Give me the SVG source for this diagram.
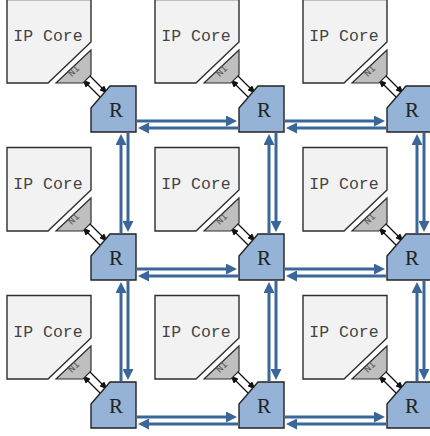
<svg xmlns="http://www.w3.org/2000/svg" width="430" height="436" viewBox="0 0 430 436">
<style>
.ip{fill:#f2f2f2;stroke:#2e2e2e;stroke-width:1.4}
.ni{fill:#bfbfbf;stroke:#2e2e2e;stroke-width:1.2}
.rt{fill:#94b3d7;stroke:#222;stroke-width:1.4}
.ipt{font-family:"Liberation Mono",monospace;font-size:16.5px;fill:#444;text-anchor:middle}
.nit{font-family:"Liberation Mono",monospace;font-size:10px;fill:#555;text-anchor:middle}
.rtt{font-family:"Liberation Serif",serif;font-size:21px;fill:#222;text-anchor:middle}
.link{fill:none;stroke:#3a6699;stroke-width:3;marker-end:url(#big)}
.nil{fill:none;stroke:#111;stroke-width:1.3;marker-end:url(#small)}
</style>
<defs>
<marker id="big" markerUnits="userSpaceOnUse" markerWidth="11" markerHeight="11" refX="1" refY="5.5" orient="auto" viewBox="0 0 11 11">
<path d="M0,0 L11,5.5 L0,11 z" fill="#3a6699"/>
</marker>
<marker id="small" markerUnits="userSpaceOnUse" markerWidth="8" markerHeight="7" refX="6" refY="3.5" orient="auto" viewBox="0 0 8 7">
<path d="M0,0 L8,3.5 L0,7 z" fill="#111"/>
</marker>
<g id="cell-ip"><polygon class="ip" points="7,-0.5 91,-0.5 91,42 48,83 7,83"/></g>
</defs>

<g id="connectors">
<path class="link" d="M137,121 H227"/><path class="link" d="M238,128 H148"/>
<path class="link" d="M285,121 H375"/><path class="link" d="M386,128 H296"/>
<path class="link" d="M137,269 H227"/><path class="link" d="M238,276 H148"/>
<path class="link" d="M285,269 H375"/><path class="link" d="M386,276 H296"/>
<path class="link" d="M137,417 H227"/><path class="link" d="M238,424 H148"/>
<path class="link" d="M285,417 H375"/><path class="link" d="M386,424 H296"/>
<path class="link" d="M121,233 V144"/><path class="link" d="M128,133 V222"/>
<path class="link" d="M269,233 V144"/><path class="link" d="M276,133 V222"/>
<path class="link" d="M417,233 V144"/><path class="link" d="M424,133 V222"/>
<path class="link" d="M121,381 V292"/><path class="link" d="M128,281 V370"/>
<path class="link" d="M269,381 V292"/><path class="link" d="M276,281 V370"/>
<path class="link" d="M417,381 V292"/><path class="link" d="M424,281 V370"/>
<g transform="translate(0,0)"><path class="nil" d="M100,97 L84,81"/><path class="nil" d="M89,75 L106,92"/></g>
<g transform="translate(148,0)"><path class="nil" d="M100,97 L84,81"/><path class="nil" d="M89,75 L106,92"/></g>
<g transform="translate(296,0)"><path class="nil" d="M100,97 L84,81"/><path class="nil" d="M89,75 L106,92"/></g>
<g transform="translate(0,148)"><path class="nil" d="M100,97 L84,81"/><path class="nil" d="M89,75 L106,92"/></g>
<g transform="translate(148,148)"><path class="nil" d="M100,97 L84,81"/><path class="nil" d="M89,75 L106,92"/></g>
<g transform="translate(296,148)"><path class="nil" d="M100,97 L84,81"/><path class="nil" d="M89,75 L106,92"/></g>
<g transform="translate(0,296)"><path class="nil" d="M100,97 L84,81"/><path class="nil" d="M89,75 L106,92"/></g>
<g transform="translate(148,296)"><path class="nil" d="M100,97 L84,81"/><path class="nil" d="M89,75 L106,92"/></g>
<g transform="translate(296,296)"><path class="nil" d="M100,97 L84,81"/><path class="nil" d="M89,75 L106,92"/></g>
</g>

<g id="ip-0-0" transform="translate(0,0)"><use href="#cell-ip"/><text class="ipt" x="48" y="41">IP Core</text></g>
<g id="ip-0-1" transform="translate(148,0)"><use href="#cell-ip"/><text class="ipt" x="48" y="41">IP Core</text></g>
<g id="ip-0-2" transform="translate(296,0)"><use href="#cell-ip"/><text class="ipt" x="48" y="41">IP Core</text></g>
<g id="ip-1-0" transform="translate(0,148)"><use href="#cell-ip"/><text class="ipt" x="48" y="41">IP Core</text></g>
<g id="ip-1-1" transform="translate(148,148)"><use href="#cell-ip"/><text class="ipt" x="48" y="41">IP Core</text></g>
<g id="ip-1-2" transform="translate(296,148)"><use href="#cell-ip"/><text class="ipt" x="48" y="41">IP Core</text></g>
<g id="ip-2-0" transform="translate(0,296)"><use href="#cell-ip"/><text class="ipt" x="48" y="41">IP Core</text></g>
<g id="ip-2-1" transform="translate(148,296)"><use href="#cell-ip"/><text class="ipt" x="48" y="41">IP Core</text></g>
<g id="ip-2-2" transform="translate(296,296)"><use href="#cell-ip"/><text class="ipt" x="48" y="41">IP Core</text></g>

<g id="ni-0-0" transform="translate(0,0)"><polygon class="ni" points="91,50 91,75 83,83 56,83"/><text class="nit" transform="translate(76,73) rotate(-45)">NI</text></g>
<g id="ni-0-1" transform="translate(148,0)"><polygon class="ni" points="91,50 91,75 83,83 56,83"/><text class="nit" transform="translate(76,73) rotate(-45)">NI</text></g>
<g id="ni-0-2" transform="translate(296,0)"><polygon class="ni" points="91,50 91,75 83,83 56,83"/><text class="nit" transform="translate(76,73) rotate(-45)">NI</text></g>
<g id="ni-1-0" transform="translate(0,148)"><polygon class="ni" points="91,50 91,75 83,83 56,83"/><text class="nit" transform="translate(76,73) rotate(-45)">NI</text></g>
<g id="ni-1-1" transform="translate(148,148)"><polygon class="ni" points="91,50 91,75 83,83 56,83"/><text class="nit" transform="translate(76,73) rotate(-45)">NI</text></g>
<g id="ni-1-2" transform="translate(296,148)"><polygon class="ni" points="91,50 91,75 83,83 56,83"/><text class="nit" transform="translate(76,73) rotate(-45)">NI</text></g>
<g id="ni-2-0" transform="translate(0,296)"><polygon class="ni" points="91,50 91,75 83,83 56,83"/><text class="nit" transform="translate(76,73) rotate(-45)">NI</text></g>
<g id="ni-2-1" transform="translate(148,296)"><polygon class="ni" points="91,50 91,75 83,83 56,83"/><text class="nit" transform="translate(76,73) rotate(-45)">NI</text></g>
<g id="ni-2-2" transform="translate(296,296)"><polygon class="ni" points="91,50 91,75 83,83 56,83"/><text class="nit" transform="translate(76,73) rotate(-45)">NI</text></g>

<g id="router-0-0" transform="translate(0,0)"><polygon class="rt" points="110,86 136,86 136,132 91,132 91,108"/><text class="rtt" x="116" y="117">R</text></g>
<g id="router-0-1" transform="translate(148,0)"><polygon class="rt" points="110,86 136,86 136,132 91,132 91,108"/><text class="rtt" x="116" y="117">R</text></g>
<g id="router-0-2" transform="translate(296,0)"><polygon class="rt" points="110,86 136,86 136,132 91,132 91,108"/><text class="rtt" x="116" y="117">R</text></g>
<g id="router-1-0" transform="translate(0,148)"><polygon class="rt" points="110,86 136,86 136,132 91,132 91,108"/><text class="rtt" x="116" y="117">R</text></g>
<g id="router-1-1" transform="translate(148,148)"><polygon class="rt" points="110,86 136,86 136,132 91,132 91,108"/><text class="rtt" x="116" y="117">R</text></g>
<g id="router-1-2" transform="translate(296,148)"><polygon class="rt" points="110,86 136,86 136,132 91,132 91,108"/><text class="rtt" x="116" y="117">R</text></g>
<g id="router-2-0" transform="translate(0,296)"><polygon class="rt" points="110,86 136,86 136,132 91,132 91,108"/><text class="rtt" x="116" y="117">R</text></g>
<g id="router-2-1" transform="translate(148,296)"><polygon class="rt" points="110,86 136,86 136,132 91,132 91,108"/><text class="rtt" x="116" y="117">R</text></g>
<g id="router-2-2" transform="translate(296,296)"><polygon class="rt" points="110,86 136,86 136,132 91,132 91,108"/><text class="rtt" x="116" y="117">R</text></g>
</svg>
